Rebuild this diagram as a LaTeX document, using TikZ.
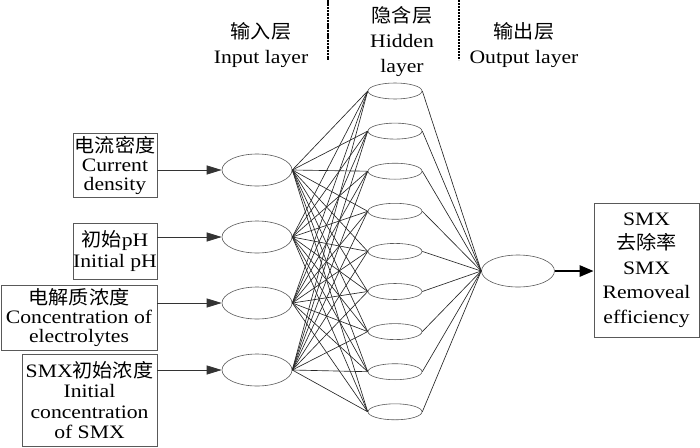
\documentclass[tikz,border=0pt]{standalone}
\usepackage{fontspec}
\setmainfont{Liberation Serif}[FakeStretch=1.14]
\newfontfamily\cjk{Noto Sans CJK SC}[FakeStretch=1.06]
\usetikzlibrary{shapes.geometric,arrows.meta}
\begin{document}
\begin{tikzpicture}[x=1pt,y=-1pt,
  neuron/.style={draw=black!65,line width=0.6pt,ellipse,inner sep=0pt},
  inneuron/.style={neuron,minimum width=70pt,minimum height=32pt},
  hidneuron/.style={neuron,minimum width=54pt,minimum height=16pt},
  txtbox/.style={draw=black!65,line width=0.7pt,rectangle,inner sep=0pt,align=center,font=\fontsize{19}{19}\selectfont},
  conn/.style={draw=black!85,line width=0.65pt},
  inarrow/.style={draw=black!80,line width=0.7pt,-{Triangle[length=15pt,width=9pt]}},
  outarrow/.style={draw=black,line width=2.6pt,-{Triangle[length=14pt,width=11pt]}},
  head/.style={align=center,font=\fontsize{19}{25}\selectfont,inner sep=0pt}
]
\useasboundingbox (0,0) rectangle (700,447);

% header
\node[head] (hin) at (261,45.5) {{\cjk 输入层}\\Input layer};
\node[head] (hhid) at (402,42) {{\cjk 隐含层}\\Hidden\\layer};
\node[head] (hout) at (524,45.5) {{\cjk 输出层}\\Output layer};
\coordinate (d1a) at (328,0); \coordinate (d1b) at (328,60);
\coordinate (d2a) at (459,0); \coordinate (d2b) at (459,60);
\draw[line width=2.6pt,dash pattern=on 2.5pt off 0.8pt] (d1a) -- (d1b);
\draw[line width=1.6pt,dash pattern=on 2pt off 1pt] (d2a) -- (d2b);

% input boxes
\node[txtbox,minimum width=84pt,minimum height=64pt] (b1) at (115,165) {{\cjk 电流密度}\\Current\\density};
\node[txtbox,minimum width=84pt,minimum height=56pt,font=\fontsize{19}{21}\selectfont] (b2) at (115,251) {{\cjk 初始}pH\\Initial pH};
\node[txtbox,minimum width=156pt,minimum height=65pt] (b3) at (79,317.5) {{\cjk 电解质浓度}\\Concentration of\\electrolytes};
\node[txtbox,minimum width=135pt,minimum height=92pt,font=\fontsize{19}{20.5}\selectfont] (b4) at (89.5,400) {SMX{\cjk 初始浓度}\\Initial\\concentration\\of SMX};

% input neurons
\node[inneuron] (i1) at (257,170) {};
\node[inneuron] (i2) at (257,237) {};
\node[inneuron] (i3) at (257,303) {};
\node[inneuron] (i4) at (257,370) {};

% hidden neurons
\foreach \k in {1,...,9} {
  \node[hidneuron] (h\k) at (395,{91+40.1*(\k-1)}) {};
}

% output neuron and box
\node[neuron,minimum width=73pt,minimum height=32pt] (o) at (518,271) {};
\node[txtbox,minimum width=105pt,minimum height=134pt,font=\fontsize{19}{24.5}\selectfont] (ob) at (646.5,270) {SMX\\{\cjk 去除率}\\SMX\\Removeal\\efficiency};

% arrows
\foreach \k in {1,...,4} {
  \draw[inarrow] (b\k.east |- i\k) -- (i\k.west);
}
\draw[outarrow] (o.east) -- (ob.west |- o);

% connections
\foreach \a in {1,...,4} {
  \foreach \k in {1,...,9} {
    \draw[conn] (i\a.east) -- (h\k.west);
  }
}
\foreach \k in {1,...,9} {
  \draw[conn] (h\k.east) -- (o.west);
}
\end{tikzpicture}
\end{document}
